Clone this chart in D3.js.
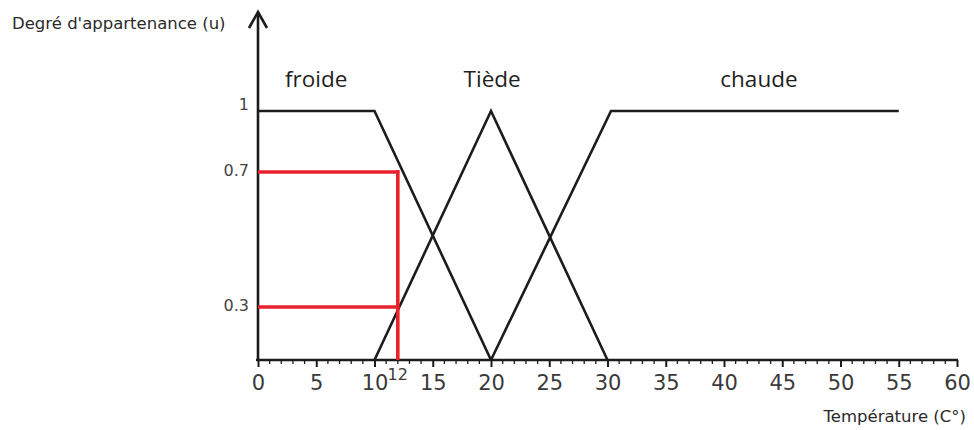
<!DOCTYPE html>
<html>
<head>
<meta charset="utf-8">
<script src="https://cdn.jsdelivr.net/npm/d3@7"></script>
<style>
  html, body { margin: 0; padding: 0; background: #fff; }
  svg { display: block; }
</style>
</head>
<body>
<svg id="chart" width="974" height="430"></svg>
<script>
// Membership functions (temperature °C, degree of membership)
const froide = [[0, 1], [10, 1], [20, 0]];
const tiede  = [[10, 0], [20, 1], [30, 0]];
const chaude = [[20, 0], [30.3, 1], [55, 1]];

const setNames  = ["froide", "Tiède", "chaude"];
const setLabelX = [5, 20.1, 43];

// Example input: 12 °C gives 0.7 and 0.3
const inputTemp = 12;
const inputDegrees = [0.7, 0.3];

const xTickValues = [0, 5, 10, 15, 20, 25, 30, 35, 40, 45, 50, 55, 60];
const yTickValues = [1, 0.7, 0.3];

const svg = d3.select("#chart");

const x = d3.scaleLinear().domain([0, 60]).range([258, 957]);
// Graduated degree axis
const y = d3.scaleLinear().domain([0, 0.3, 0.7, 1]).range([360, 307, 172, 111]);

const ink = "#1c1c1c";
const textCol = "#3a3a3a";

// X axis: minor ticks every degree, major every 5
const minor = d3.range(0, 61, 1).filter(v => v % 5 !== 0);
svg.append("g")
  .selectAll("line.minor")
  .data(minor)
  .join("line")
  .attr("x1", d => x(d)).attr("x2", d => x(d))
  .attr("y1", y(0)).attr("y2", y(0) + 4)
  .attr("stroke", ink).attr("stroke-width", 1.3);

const xAxis = d3.axisBottom(x).tickValues(xTickValues).tickSize(7).tickPadding(8)
  .tickFormat(d => d);
const gx = svg.append("g").attr("transform", `translate(0,${y(0)})`).call(xAxis);
gx.select(".domain").attr("stroke", ink).attr("stroke-width", 2.6).attr("d", `M${x(0) - 2},0H${x(60) + 1}`);
gx.selectAll(".tick line").attr("stroke", ink).attr("stroke-width", 2);
gx.selectAll(".tick text")
  .attr("fill", textCol)
  .style("font-family", "'DejaVu Sans', Verdana, sans-serif")
  .style("font-size", "21px");

// Input value label on the axis
svg.append("text")
  .attr("x", x(inputTemp)).attr("y", 380)
  .attr("text-anchor", "middle")
  .attr("fill", textCol)
  .style("font-family", "'DejaVu Sans', Verdana, sans-serif")
  .style("font-size", "16px")
  .text(inputTemp);

// Y axis with arrow head
svg.append("line")
  .attr("x1", x(0)).attr("x2", x(0))
  .attr("y1", y(0) + 1).attr("y2", 13)
  .attr("stroke", ink).attr("stroke-width", 2.6);
svg.append("path")
  .attr("d", `M${x(0) - 9},28L${x(0)},12L${x(0) + 9},28`)
  .attr("fill", "none").attr("stroke", ink).attr("stroke-width", 2.6);

svg.append("g")
  .selectAll("text")
  .data(yTickValues)
  .join("text")
  .attr("x", 249)
  .attr("y", d => y(d) + (d === 1 ? -1 : 4))
  .attr("text-anchor", "end")
  .attr("fill", "#444")
  .style("font-family", "'DejaVu Sans', Verdana, sans-serif")
  .style("font-size", "16px")
  .text(d => d);

// Axis titles
svg.append("text")
  .attr("x", 12).attr("y", 29)
  .attr("fill", "#2a2a2a")
  .style("font-family", "'DejaVu Sans', Tahoma, sans-serif")
  .style("font-size", "16.5px")
  .text("Degré d'appartenance (u)");
svg.append("text")
  .attr("x", 966).attr("y", 422)
  .attr("text-anchor", "end")
  .attr("fill", "#2a2a2a")
  .style("font-family", "'DejaVu Sans', Tahoma, sans-serif")
  .style("font-size", "16.5px")
  .text("Température (C°)");

// Membership curves
const line = d3.line().x(d => x(d[0])).y(d => y(d[1]));
svg.append("g")
  .selectAll("path")
  .data([froide, tiede, chaude])
  .join("path")
  .attr("d", line)
  .attr("fill", "none")
  .attr("stroke", ink)
  .attr("stroke-width", 2.6)
  .attr("stroke-linejoin", "miter");

// Set names
svg.append("g")
  .selectAll("text")
  .data(setNames)
  .join("text")
  .attr("x", (d, i) => x(setLabelX[i]))
  .attr("y", 87)
  .attr("text-anchor", "middle")
  .attr("fill", "#1e1e1e")
  .style("font-family", "'Open Sans', 'Noto Sans', sans-serif")
  .style("font-size", "22.5px")
  .text(d => d);

// Input projection (red)
const red = "#e8212b";
svg.append("g")
  .selectAll("line.h")
  .data(inputDegrees)
  .join("line")
  .attr("x1", x(0)).attr("x2", x(inputTemp) + 1.5)
  .attr("y1", d => y(d)).attr("y2", d => y(d))
  .attr("stroke", red).attr("stroke-width", 3.6);
svg.append("line")
  .attr("x1", x(inputTemp)).attr("x2", x(inputTemp))
  .attr("y1", y(d3.max(inputDegrees)) - 1.8).attr("y2", y(0))
  .attr("stroke", red).attr("stroke-width", 3.6);
</script>
</body>
</html>
